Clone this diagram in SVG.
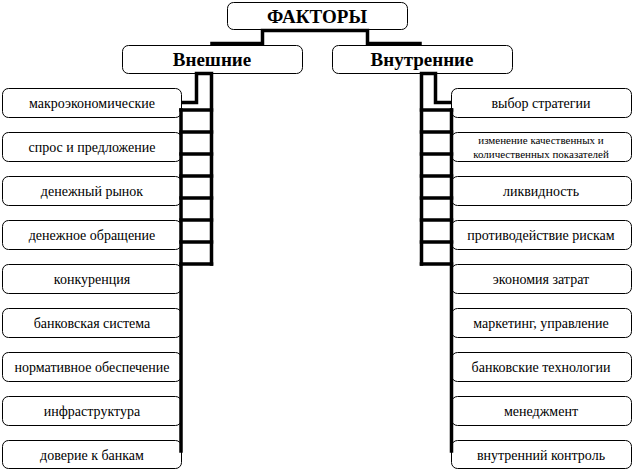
<svg xmlns="http://www.w3.org/2000/svg" width="633" height="470" viewBox="0 0 633 470">
<style>
.box{fill:#fff;stroke:#000;stroke-width:1}
.h{font-family:'Liberation Serif','DejaVu Serif',serif;font-weight:bold;font-size:19px;text-anchor:middle;fill:#000}
.t{font-family:'Liberation Serif','DejaVu Serif',serif;font-size:14px;text-anchor:middle;fill:#000}
.s{font-family:'Liberation Serif','DejaVu Serif',serif;font-size:11px;text-anchor:middle;fill:#000}
.c{fill:none;stroke:#000;stroke-width:3.5;stroke-linejoin:miter;stroke-linecap:square}
</style>
<rect width="633" height="470" fill="#fff"/>
<g id="n-faktory"><rect class="box" x="227.5" y="2.5" width="180" height="27" rx="6"/><text class="h" x="317" y="23">ФАКТОРЫ</text></g>
<g id="n-vneshnie"><rect class="box" x="122.5" y="45.5" width="180" height="28" rx="6"/><text class="h" x="212" y="66">Внешние</text></g>
<g id="n-vnutrennie"><rect class="box" x="332.5" y="45.5" width="180" height="28" rx="6"/><text class="h" x="422" y="66">Внутренние</text></g>

<g id="n-l1"><rect class="box" x="2.5" y="88.5" width="179" height="29" rx="6"/><text class="t" x="92" y="108">макроэкономические</text></g>
<g id="n-l2"><rect class="box" x="2.5" y="132.5" width="179" height="29" rx="6"/><text class="t" x="92" y="152">спрос и предложение</text></g>
<g id="n-l3"><rect class="box" x="2.5" y="176.5" width="179" height="29" rx="6"/><text class="t" x="92" y="196">денежный рынок</text></g>
<g id="n-l4"><rect class="box" x="2.5" y="220.5" width="179" height="29" rx="6"/><text class="t" x="92" y="240">денежное обращение</text></g>
<g id="n-l5"><rect class="box" x="2.5" y="264.5" width="179" height="29" rx="6"/><text class="t" x="92" y="284">конкуренция</text></g>
<g id="n-l6"><rect class="box" x="2.5" y="308.5" width="179" height="29" rx="6"/><text class="t" x="92" y="328">банковская система</text></g>
<g id="n-l7"><rect class="box" x="2.5" y="352.5" width="179" height="29" rx="6"/><text class="t" x="92" y="372">нормативное обеспечение</text></g>
<g id="n-l8"><rect class="box" x="2.5" y="396.5" width="179" height="29" rx="6"/><text class="t" x="92" y="416">инфраструктура</text></g>
<g id="n-l9"><rect class="box" x="2.5" y="440.5" width="179" height="28" rx="6"/><text class="t" x="92" y="460">доверие к банкам</text></g>

<g id="n-r1"><rect class="box" x="451.5" y="88.5" width="180" height="29" rx="6"/><text class="t" x="541" y="108">выбор стратегии</text></g>
<g id="n-r2"><rect class="box" x="451.5" y="132.5" width="180" height="29" rx="6"/><text class="s" x="541" y="143.5">изменение качественных и</text><text class="s" x="541" y="157.5">количественных показателей</text></g>
<g id="n-r3"><rect class="box" x="451.5" y="176.5" width="180" height="29" rx="6"/><text class="t" x="541" y="196">ликвидность</text></g>
<g id="n-r4"><rect class="box" x="451.5" y="220.5" width="180" height="29" rx="6"/><text class="t" x="541" y="240">противодействие рискам</text></g>
<g id="n-r5"><rect class="box" x="451.5" y="264.5" width="180" height="29" rx="6"/><text class="t" x="541" y="284">экономия затрат</text></g>
<g id="n-r6"><rect class="box" x="451.5" y="308.5" width="180" height="29" rx="6"/><text class="t" x="541" y="328">маркетинг, управление</text></g>
<g id="n-r7"><rect class="box" x="451.5" y="352.5" width="180" height="29" rx="6"/><text class="t" x="541" y="372">банковские технологии</text></g>
<g id="n-r8"><rect class="box" x="451.5" y="396.5" width="180" height="29" rx="6"/><text class="t" x="541" y="416">менеджмент</text></g>
<g id="n-r9"><rect class="box" x="451.5" y="440.5" width="180" height="28" rx="6"/><text class="t" x="541" y="460">внутренний контроль</text></g>

<g id="connectors">
<path class="c" d="M212 43.5 H262.5 V30.5 H367.5 V43.5 H420"/>
<path class="c" d="M183 102.5 H196.5 V73.5 H211.5 V264"/>
<path class="c" d="M181 110 V451"/>
<path class="c" d="M181 110 H211.5 M181 132 H211.5 M181 154 H211.5 M181 176 H211.5 M181 198 H211.5 M181 220 H211.5 M181 242 H211.5 M181 264 H211.5"/>
<path class="c" d="M450 102.5 H435.5 V73.5 H421.5 V264"/>
<path class="c" d="M451.5 110 V451"/>
<path class="c" d="M421.5 110 H451.5 M421.5 132 H451.5 M421.5 154 H451.5 M421.5 176 H451.5 M421.5 198 H451.5 M421.5 220 H451.5 M421.5 242 H451.5 M421.5 264 H451.5"/>
</g>
</svg>
